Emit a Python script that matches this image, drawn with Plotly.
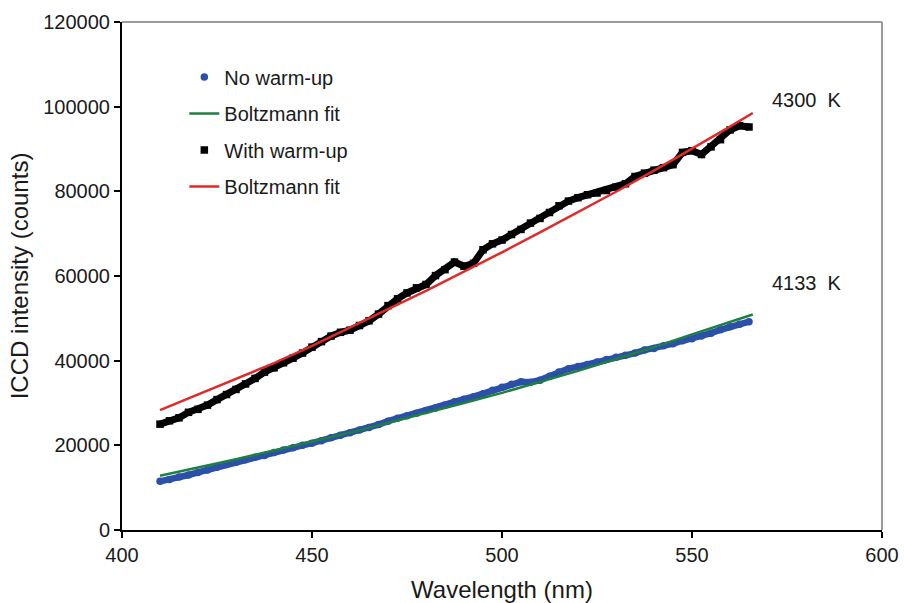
import plotly.graph_objects as go

wl_data = [410, 412.5, 415, 417.5, 420, 422.5, 425, 427.5, 430, 432.5, 435, 437.5,
           440, 442.5, 445, 447.5, 450, 452.5, 455, 457.5, 460, 462.5, 465, 467.5,
           470, 472.5, 475, 477.5, 480, 482.5, 485, 487.5, 490, 492.5, 495, 497.5,
           500, 502.5, 505, 507.5, 510, 512.5, 515, 517.5, 520, 522.5, 525, 527.5,
           530, 532.5, 535, 537.5, 540, 542.5, 545, 547.5, 550, 552.5, 555, 557.5,
           560, 562.5, 565]

no_warmup = [11500, 11900, 12500, 13000, 13600, 14200, 14800, 15500, 16000, 16600, 17200, 17600,
             18300, 18900, 19400, 20000, 20500, 21100, 21800, 22400, 23000, 23600, 24200, 24900,
             25700, 26400, 27000, 27600, 28200, 28800, 29500, 30300, 30900, 31500, 32200, 33000,
             33700, 34400, 35000, 34900, 35400, 36300, 37300, 38100, 38600, 39100, 39700, 40300,
             40800, 41300, 41800, 42500, 42900, 43500, 44000, 44700, 45200, 45800, 46500, 47300,
             48000, 48600, 49200]

with_warmup = [25000, 25800, 26500, 27800, 28500, 29500, 30800, 32000, 33200, 34500, 35800, 37300,
               38300, 39500, 40600, 41800, 43200, 44500, 45800, 46700, 47200, 48300, 49400, 51000,
               53000, 54600, 56000, 57200, 58000, 60100, 61500, 63300, 62300, 63000, 66200, 67600,
               68500, 69800, 71000, 72500, 73600, 75000, 76600, 77700, 78500, 79200, 79600, 80200,
               81000, 81800, 83500, 84300, 85000, 85600, 86300, 89200, 89600, 88700, 90500, 92200,
               94500, 95500, 95200]

# Boltzmann fits
wl_fit = [410, 420, 430, 440, 450, 460, 470, 480, 490, 500, 510, 520, 530, 540, 550, 560, 566]
fit_no_warmup = [12800, 14700, 16700, 18800, 20900, 23000, 25300, 27600, 30000, 32400, 35000,
                 37600, 40400, 43200, 46200, 49200, 50900]
fit_with_warmup = [28300, 32000, 35800, 39400, 43500, 47900, 52200, 56500, 61000, 65600, 70300,
                   75000, 79900, 84900, 90000, 95300, 98500]

temp_labels = ["4300\u00a0\u00a0K", "4133\u00a0\u00a0K"]
temp_label_y = [101500, 58300]

BLUE = "#2b50a8"
GREEN = "#1e8040"
RED = "#e02a2a"
BLACK = "#000000"
FONT = "Liberation Sans, Arial, sans-serif"
TXT = "#1a1a1a"

fig = go.Figure()

# continuous band under the markers
fig.add_trace(go.Scatter(x=wl_data, y=no_warmup, mode="lines", line=dict(color=BLUE, width=6.5),
                         showlegend=False, hoverinfo="skip"))
fig.add_trace(go.Scatter(x=wl_data, y=with_warmup, mode="lines", line=dict(color=BLACK, width=7),
                         showlegend=False, hoverinfo="skip"))

fig.add_trace(go.Scatter(x=wl_data, y=no_warmup, mode="markers", name="No warm-up",
                         legendgroup="a", marker=dict(color=BLUE, size=7.5, symbol="circle")))
fig.add_trace(go.Scatter(x=wl_fit, y=fit_no_warmup, mode="lines", name="Boltzmann fit",
                         legendgroup="b", line=dict(color=GREEN, width=2.5)))
fig.add_trace(go.Scatter(x=wl_data, y=with_warmup, mode="markers", name="With warm-up",
                         legendgroup="c", marker=dict(color=BLACK, size=7.5, symbol="square")))
fig.add_trace(go.Scatter(x=wl_fit, y=fit_with_warmup, mode="lines", name="Boltzmann fit",
                         legendgroup="d", line=dict(color=RED, width=2.5)))

for t, yv in zip(temp_labels, temp_label_y):
    fig.add_annotation(x=570.5, y=yv, text=t, showarrow=False, xanchor="left",
                       font=dict(family=FONT, size=20, color=TXT))

# grey top/right frame
fig.add_shape(type="line", xref="paper", yref="paper", x0=0, x1=1, y0=1, y1=1,
              line=dict(color="#9a9a9a", width=2))
fig.add_shape(type="line", xref="paper", yref="paper", x0=1, x1=1, y0=0, y1=1,
              line=dict(color="#9a9a9a", width=2))

fig.update_layout(
    width=904, height=603,
    margin=dict(l=122, r=22, t=22, b=73),
    paper_bgcolor="white", plot_bgcolor="white",
    font=dict(family=FONT, size=20, color=TXT),
    legend=dict(x=0.082, y=0.93, xanchor="left", yanchor="top",
                traceorder="grouped", tracegroupgap=7.5,
                bgcolor="rgba(0,0,0,0)", font=dict(size=20)),
    xaxis=dict(range=[400, 600], dtick=50, showgrid=False, zeroline=False,
               showline=True, linecolor="black", linewidth=2,
               ticks="outside", ticklen=6, tickcolor="black", tickwidth=1.5,
               tickformat="d", automargin=False,
               title=dict(text="Wavelength (nm)", standoff=17)),
    yaxis=dict(range=[0, 120000], dtick=20000, showgrid=False, zeroline=False,
               showline=True, linecolor="black", linewidth=2,
               ticks="outside", ticklen=6, tickcolor="black", tickwidth=1.5,
               tickformat="d", automargin=False,
               title=dict(text="ICCD intensity (counts)", standoff=8)),
)

fig.write_html("out.html")
